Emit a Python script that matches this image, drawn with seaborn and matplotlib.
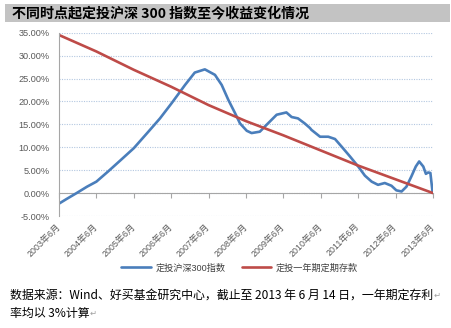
import matplotlib
matplotlib.use("Agg")
import matplotlib.pyplot as plt
from matplotlib.patches import Rectangle
from matplotlib.ticker import FuncFormatter
import seaborn as sns
import pandas as pd

# Years elapsed since the June 2003 starting point, and the cumulative return (%)
# of a fixed monthly investment into the CSI 300 index started at that point.
csi300_years = [0.00, 0.20, 0.47, 0.75, 1.00, 1.31, 1.65, 2.00, 2.39, 2.70,
                3.01, 3.37, 3.63, 3.90, 4.17, 4.35, 4.53, 4.71, 4.84, 5.02,
                5.15, 5.37, 5.55, 5.82, 6.08, 6.22, 6.39, 6.57, 6.71, 6.75,
                6.98, 7.20, 7.38, 7.55, 7.78, 8.00, 8.18, 8.36, 8.53, 8.71,
                8.89, 9.02, 9.16, 9.29, 9.42, 9.54, 9.63, 9.74, 9.81, 9.87,
                9.93, 9.99]
csi300_return = [-2.3, -1.3, 0.0, 1.4, 2.5, 4.7, 7.2, 9.8, 13.4, 16.3,
                 19.6, 23.6, 26.3, 27.0, 25.8, 23.6, 20.3, 17.4, 15.2, 13.6,
                 13.1, 13.4, 14.9, 17.1, 17.6, 16.6, 16.3, 15.2, 14.2, 13.8,
                 12.3, 12.3, 11.8, 10.2, 8.0, 5.8, 3.8, 2.5, 1.8, 2.2,
                 1.6, 0.6, 0.35, 1.4, 3.6, 5.8, 6.9, 5.8, 4.2, 4.5,
                 4.4, 0.1]

# Same scheme using one-year fixed deposits (3% p.a.)
deposit_years = [0, 1, 2, 3, 4, 5, 6, 7, 8, 9, 10]
deposit_return = [34.5, 30.9, 26.9, 23.2, 19.2, 15.7, 12.6, 9.3, 6.0, 3.0, 0.0]

tick_years = [0, 1, 2, 3, 4, 5, 6, 7, 8, 9, 10]
tick_labels = ["2003年6月", "2004年6月", "2005年6月", "2006年6月", "2007年6月",
               "2008年6月", "2009年6月", "2010年6月", "2011年6月", "2012年6月",
               "2013年6月"]
y_ticks = [-5, 0, 5, 10, 15, 20, 25, 30, 35]

series_names = ["定投沪深300指数", "定投一年期定期存款"]
series_colors = ["#4a7ebb", "#be4b48"]

title_text = "不同时点起定投沪深 300 指数至今收益变化情况"
note_lines = ["数据来源：Wind、好买基金研究中心，截止至 2013 年 6 月 14 日，一年期定存利",
              "率均以 3%计算"]

sns.set_theme(style="white")
plt.rcParams["font.family"] = ["Liberation Sans", "Noto Sans CJK SC", "DejaVu Sans"]

df = pd.concat([
    pd.DataFrame({"year": csi300_years, "ret": csi300_return, "series": series_names[0]}),
    pd.DataFrame({"year": deposit_years, "ret": deposit_return, "series": series_names[1]}),
], ignore_index=True)

fig = plt.figure(figsize=(4.52, 3.28), dpi=100)
fig.patch.set_facecolor("white")
W, H = 452, 328
ax = fig.add_axes([59 / W, 1 - 216 / H, (433 - 59) / W, (216 - 32.7) / H])

sns.lineplot(data=df, x="year", y="ret", hue="series", hue_order=series_names,
             palette=series_colors, linewidth=1.9, ax=ax, legend=False,
             estimator=None, sort=False)

ax.set_xlim(0, 10)
ax.set_ylim(-5, 35)
ax.set_yticks(y_ticks)
ax.yaxis.set_major_formatter(FuncFormatter(lambda v, _: f"{v:.2f}%"))
ax.set_xlabel("")
ax.set_ylabel("")

grid_color = "#b3c7e0"
ax.grid(axis="y", color=grid_color, linestyle=(0, (1, 1.2)), linewidth=0.8)
ax.grid(axis="x", visible=False)
ax.set_axisbelow(True)

axis_gray = "#a6a6a6"
for side in ["top", "right"]:
    ax.spines[side].set_visible(False)
ax.spines["left"].set_color(axis_gray)
ax.spines["left"].set_linewidth(0.8)
# category axis crosses the value axis at 0%
ax.spines["bottom"].set_position(("data", 0))
ax.spines["bottom"].set_color(axis_gray)
ax.spines["bottom"].set_linewidth(0.8)
ax.spines["bottom"].set_zorder(1)

ax.set_xticks(tick_years)
ax.tick_params(axis="x", direction="out", length=3.5, width=0.8, color=axis_gray,
               labelbottom=False, bottom=True)
ax.tick_params(axis="y", length=0, pad=6.5, labelsize=6.6, labelcolor="#595959")

# date labels sit below the plot area
sec = ax.secondary_xaxis("bottom")
sec.set_xticks(tick_years)
sec.set_xticklabels(tick_labels, rotation=45, ha="right", va="center",
                    rotation_mode="anchor", fontsize=6.4, color="#595959")
sec.tick_params(axis="x", length=0, pad=6.5)
sec.spines["bottom"].set_visible(False)

# legend
handles = [plt.Line2D([], [], color=c, linewidth=1.9) for c in series_colors]
fig.legend(handles, series_names, loc="center", bbox_to_anchor=(0.53, 1 - 268 / H),
           ncol=2, frameon=False, fontsize=6.6, handlelength=3.2, columnspacing=1.8,
           handletextpad=0.5, labelcolor="#404040")

# title band
fig.patches.append(Rectangle((5 / W, 1 - 21.7 / H), (450 - 5) / W, 17.7 / H,
                             transform=fig.transFigure, facecolor="#c3c3c3",
                             edgecolor="none", zorder=0))
t = fig.text(12 / W, 1 - 13 / H, title_text, fontsize=10.1, fontweight="bold",
             color="black", va="center", ha="left",
             family=["Noto Sans CJK SC", "DejaVu Sans"])
ret_kw = dict(fontsize=6, color="#a0a0a0", va="center", ha="left",
              family=["DejaVu Sans"])
ax.annotate("↵", xy=(1, 0.45), xycoords=t, xytext=(1, 0), textcoords="offset points",
            annotation_clip=False, **ret_kw)

# source note
n1 = fig.text(10 / W, 1 - 295 / H, note_lines[0], fontsize=8.6, color="black",
              va="center", ha="left", family=["Noto Sans CJK SC", "DejaVu Sans"])
n2 = fig.text(10 / W, 1 - 313 / H, note_lines[1], fontsize=8.6, color="black",
              va="center", ha="left", family=["Noto Sans CJK SC", "DejaVu Sans"])
for n in (n1, n2):
    ax.annotate("↵", xy=(1, 0.45), xycoords=n, xytext=(0.3, 0), textcoords="offset points",
                annotation_clip=False, **ret_kw)

fig.savefig("out.png", dpi=100, facecolor="white")
